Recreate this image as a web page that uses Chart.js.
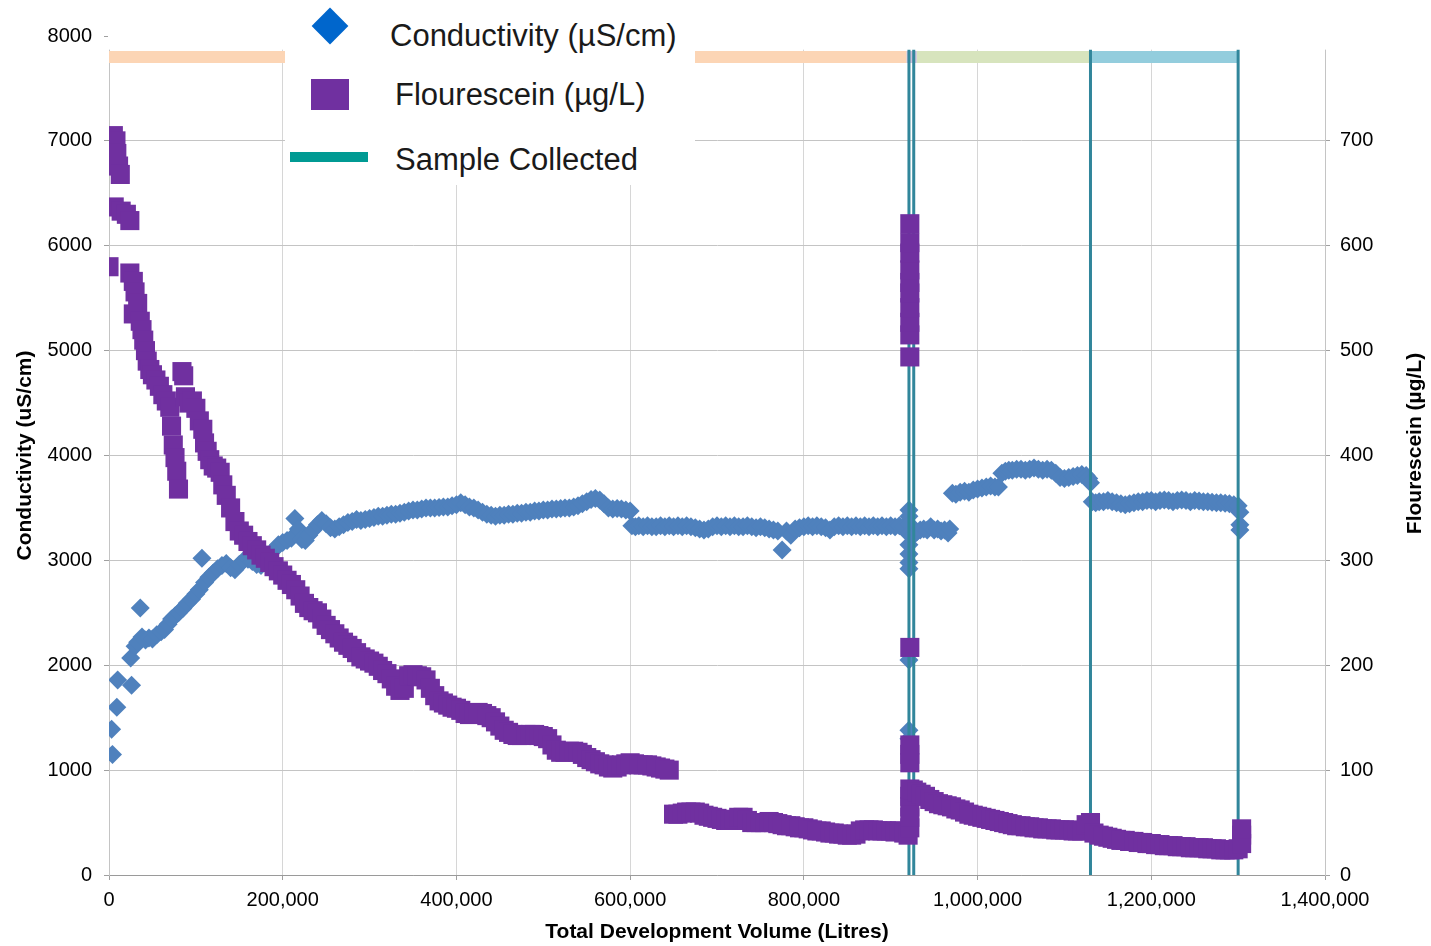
<!DOCTYPE html>
<html>
<head>
<meta charset="utf-8">
<script src="https://cdn.jsdelivr.net/npm/chart.js@4.4.1/dist/chart.umd.min.js"></script>
<style>
  body { margin: 0; background: #fff; }
  #wrap { position: relative; width: 1431px; height: 946px; }
  #legend {
    position: absolute; left: 285px; top: 0; width: 410px; height: 185px;
    background: #fff; font-family: "Liberation Sans", Arial, sans-serif; color: #1a1a1a;
  }
  #legend .txt { position: absolute; font-size: 31px; line-height: 31px; white-space: nowrap; }
  .diamond { position: absolute; left: 32px; top: 13px; width: 26px; height: 26px; background: #0066cc; transform: rotate(45deg); }
  .square { position: absolute; left: 26px; top: 79px; width: 38px; height: 31px; background: #7030a0; }
  .line { position: absolute; left: 5px; top: 152px; width: 78px; height: 10px; background: #009a93; }
</style>
</head>
<body>
<div id="wrap">
  <canvas id="chart" width="1431" height="946"></canvas>
  <div id="legend">
    <div class="diamond"></div>
    <div class="txt" style="left:105px;top:20px">Conductivity (µS/cm)</div>
    <div class="square"></div>
    <div class="txt" style="left:110px;top:79px">Flourescein (µg/L)</div>
    <div class="line"></div>
    <div class="txt" style="left:110px;top:144px">Sample Collected</div>
  </div>
</div>
<script>
// [volume (L), conductivity (uS/cm)]
const conductivity = [
  [3000,1390],[4000,1150],[9000,1600],[10000,1860],[25000,2070],[26000,1810],[30000,2180],[33000,2220],
  [36000,2545],[38000,2270],[42000,2240],[46000,2260],[50000,2250],[55000,2290],[60000,2320],[64000,2340],
  [68000,2390],[72000,2440],[76000,2470],[80000,2500],[85000,2540],[90000,2590],[95000,2630],[100000,2680],
  [104000,2720],[107000,3020],[110000,2790],[115000,2840],[120000,2880],[125000,2920],[130000,2950],[135000,2970],
  [140000,2930],[145000,2910],[150000,2960],[155000,3000],[160000,3010],[165000,2990],[170000,2960],[175000,2950],
  [180000,3010],[185000,3060],[190000,3100],[195000,3150],[200000,3170],[205000,3190],[210000,3210],[214000,3400],
  [218000,3300],[222000,3200],[226000,3190],[230000,3240],[235000,3290],[240000,3340],[245000,3380],[250000,3350],
  [255000,3310],[260000,3300],[265000,3320],[270000,3340],[275000,3360],[280000,3370],[285000,3390],[290000,3380],
  [295000,3390],[300000,3400],[305000,3410],[310000,3420],[315000,3420],[320000,3430],[325000,3440],[330000,3440],
  [335000,3450],[340000,3460],[345000,3470],[350000,3480],[355000,3480],[360000,3490],[365000,3500],[370000,3500],
  [375000,3500],[380000,3505],[385000,3510],[390000,3510],[395000,3520],[400000,3530],[405000,3550],[410000,3530],
  [415000,3510],[420000,3500],[425000,3480],[430000,3460],[435000,3440],[440000,3430],[445000,3420],[450000,3430],
  [455000,3430],[460000,3440],[465000,3440],[470000,3450],[475000,3450],[480000,3460],[485000,3460],[490000,3470],
  [495000,3470],[500000,3480],[505000,3480],[510000,3490],[515000,3490],[520000,3495],[525000,3500],[530000,3500],
  [535000,3510],[540000,3520],[545000,3540],[550000,3560],[555000,3580],[560000,3590],[565000,3575],[570000,3540],
  [575000,3500],[580000,3490],[585000,3495],[590000,3490],[595000,3480],[600000,3470],
  [602000,3330],[606000,3320],[610000,3330],[615000,3320],[620000,3330],[625000,3320],[630000,3320],[635000,3330],
  [640000,3320],[645000,3330],[650000,3320],[655000,3330],[660000,3320],[665000,3330],[670000,3320],[675000,3310],
  [680000,3300],[685000,3290],[690000,3300],[695000,3320],[700000,3330],[705000,3320],[710000,3330],[715000,3320],
  [720000,3330],[725000,3320],[730000,3320],[735000,3330],[740000,3320],[745000,3310],[750000,3320],[755000,3310],
  [760000,3300],[765000,3290],[770000,3280],[775000,3100],[780000,3280],[785000,3240],[790000,3300],[795000,3310],
  [800000,3320],[805000,3330],[810000,3320],[815000,3330],[820000,3320],[825000,3310],[830000,3290],[835000,3320],
  [840000,3330],[845000,3320],[850000,3330],[855000,3320],[860000,3330],[865000,3320],[870000,3330],[875000,3320],
  [880000,3330],[885000,3320],[890000,3330],[895000,3320],[900000,3330],[905000,3320],[910000,3330],[915000,3320],
  [921000,3480],[921000,3420],[921000,3350],[921000,3250],[921000,3150],[921000,3060],[921000,2980],[921000,2920],
  [921000,2050],[921000,1380],[921000,1300],
  [926000,3240],[930000,3270],[934000,3290],[938000,3300],[942000,3290],[946000,3320],[950000,3290],[954000,3300],
  [958000,3280],[962000,3290],[966000,3260],[968000,3300],
  [971000,3640],[975000,3630],[980000,3650],[985000,3660],[990000,3650],[995000,3670],[1000000,3680],[1005000,3690],
  [1010000,3700],[1015000,3710],[1020000,3700],[1024000,3700],
  [1028000,3830],[1032000,3850],[1036000,3860],[1040000,3860],[1045000,3870],[1050000,3870],[1055000,3860],[1060000,3870],
  [1065000,3880],[1070000,3870],[1075000,3860],[1080000,3870],[1085000,3860],[1090000,3830],[1095000,3790],[1100000,3780],
  [1105000,3790],[1110000,3800],[1115000,3810],[1120000,3820],[1125000,3810],[1128000,3780],[1130000,3740],
  [1132000,3560],[1136000,3550],[1140000,3560],[1145000,3560],[1150000,3570],[1155000,3560],[1160000,3550],[1165000,3540],
  [1170000,3530],[1175000,3540],[1180000,3550],[1185000,3560],[1190000,3560],[1195000,3570],[1200000,3570],[1205000,3560],
  [1210000,3570],[1215000,3575],[1220000,3570],[1225000,3560],[1230000,3570],[1235000,3575],[1240000,3570],[1245000,3560],
  [1250000,3570],[1255000,3565],[1260000,3560],[1265000,3560],[1270000,3555],[1275000,3550],[1280000,3550],[1285000,3545],
  [1290000,3540],[1295000,3530],[1300000,3520],[1302000,3460],[1302000,3340],[1302000,3290]
];

// [volume (L), flourescein (ug/L)]
const flourescein = [
  [0,580],[5000,705],[8000,700],[9000,688],[11000,676],[13000,668],[6000,637],[14000,633],[20000,630],[24000,624],
  [24000,574],[28000,566],[30000,556],[33000,545],[28000,535],[36000,528],[38000,520],[40000,510],[42000,500],[44000,490],
  [47000,482],[50000,477],[54000,472],[58000,466],[62000,458],[66000,452],[70000,446],[72000,428],[74000,410],[76000,398],
  [78000,385],[80000,368],[84000,480],[86000,476],[88000,456],[92000,450],[96000,452],[100000,445],[104000,433],[108000,425],
  [110000,412],[113000,404],[116000,396],[120000,390],[124000,388],[128000,384],[131000,372],[135000,362],[140000,350],[145000,337],
  [150000,328],[155000,324],[160000,318],[165000,314],[170000,310],[175000,305],[180000,302],[185000,298],[190000,294],[195000,290],
  [200000,286],[205000,281],[210000,277],[215000,272],[220000,266],[225000,259],[230000,255],[235000,252],[240000,250],[245000,244],
  [250000,238],[255000,234],[260000,230],[265000,226],[270000,222],[275000,219],[280000,216],[285000,212],[290000,208],[295000,206],
  [300000,204],[305000,202],[310000,199],[315000,195],[320000,192],[325000,187],[330000,180],[335000,176],[340000,178],[345000,190],
  [350000,191],[355000,190],[360000,189],[365000,186],[370000,178],[375000,171],[380000,166],[385000,164],[390000,162],[395000,160],
  [400000,159],[405000,157],[410000,154],[415000,153],[420000,154],[425000,155],[430000,154],[435000,152],[440000,150],[445000,146],
  [450000,142],[455000,138],[460000,136],[465000,134],[470000,133],[475000,133],[480000,134],[485000,134],[490000,134],[495000,133],
  [500000,132],[505000,130],[510000,124],[515000,119],[520000,117],[525000,117],[530000,118],[535000,118],[540000,117],[545000,115],
  [550000,112],[555000,110],[560000,108],[565000,106],[570000,105],[575000,103],[580000,102],[585000,103],[590000,105],[595000,106],
  [600000,107],[605000,106],[610000,105],[615000,105],[620000,105],[625000,104],[630000,103],[635000,102],[640000,101],[645000,100],
  [650000,58],[655000,58],[660000,59],[665000,60],[670000,60],[675000,60],[680000,59],[685000,57],[690000,56],[695000,55],
  [700000,54],[705000,53],[710000,52],[715000,52],[720000,53],[725000,55],[730000,55],[735000,52],[740000,50],[745000,50],
  [750000,50],[755000,50],[760000,51],[765000,50],[770000,49],[775000,48],[780000,47],[785000,47],[790000,46],[795000,45],
  [800000,45],[805000,44],[810000,43],[815000,42],[820000,42],[825000,41],[830000,40],[835000,40],[840000,39],[845000,39],
  [850000,38],[855000,38],[860000,39],[865000,42],[870000,43],[875000,43],[880000,43],[885000,42],[890000,42],[895000,42],
  [900000,42],[905000,41],[910000,42],[915000,40],[920000,38],
  [922000,45],[922000,55],[922000,65],[922000,75],[922000,82],[922000,107],[922000,115],[922000,124],[922000,217],
  [922000,494],[922000,515],[922000,527],[922000,541],[922000,555],[922000,565],[922000,577],[922000,593],[922000,603],[922000,621],
  [926000,81],[930000,79],[935000,77],[940000,75],[945000,72],[950000,70],[955000,68],[960000,67],[965000,66],[970000,65],
  [975000,63],[980000,62],[985000,60],[990000,58],[995000,57],[1000000,56],[1005000,55],[1010000,54],[1015000,53],[1020000,52],
  [1025000,51],[1030000,50],[1035000,49],[1040000,48],[1045000,47],[1050000,47],[1055000,46],[1060000,46],[1065000,45],[1070000,45],
  [1075000,44],[1080000,44],[1085000,44],[1090000,43],[1095000,43],[1100000,43],[1105000,43],[1110000,42],[1115000,42],[1120000,42],
  [1125000,48],[1130000,50],[1134000,40],[1140000,38],[1145000,37],[1150000,36],[1155000,35],[1160000,34],[1165000,33],[1170000,33],
  [1175000,32],[1180000,32],[1185000,31],[1190000,31],[1195000,30],[1200000,30],[1205000,29],[1210000,29],[1215000,28],[1220000,28],
  [1225000,28],[1230000,27],[1235000,27],[1240000,27],[1245000,26],[1250000,26],[1255000,26],[1260000,26],[1265000,25],[1270000,25],
  [1275000,25],[1280000,24],[1285000,24],[1290000,24],[1295000,24],[1300000,25],[1304000,30],[1304000,38],[1304000,44]
];

const sampleVolumes = [921000, 926500, 1130000, 1300000];
const phaseBounds = [[0, 918000], [918000, 930000], [930000, 1131000], [1131000, 1301000]];
const phaseColors = ['#fcd5b5', '#ccc0da', '#d7e4bd', '#93cddd'];
const phaseLevel = 7800;
const sampleTop = 7870;

const xTicks = [0, 200000, 400000, 600000, 800000, 1000000, 1200000, 1400000];

Chart.defaults.font.family = '"Liberation Sans", Arial, sans-serif';
Chart.defaults.color = '#000';

const datasets = [];
datasets.push({
  label: 'Flourescein (µg/L)',
  data: flourescein.map(p => ({ x: p[0], y: p[1] })),
  yAxisID: 'y1',
  pointStyle: 'rect',
  pointRadius: 13.5,
  pointBackgroundColor: '#7030a0',
  pointBorderColor: '#7030a0',
  pointBorderWidth: 0,
  order: 0
});
sampleVolumes.forEach(v => {
  datasets.push({
    label: 'Sample Collected',
    data: [{ x: v, y: 0 }, { x: v, y: sampleTop }],
    yAxisID: 'y',
    showLine: true,
    borderColor: '#31869b',
    borderWidth: 3,
    pointRadius: 0,
    order: 1
  });
});
phaseBounds.forEach((b, i) => {
  datasets.push({
    label: 'phase',
    data: [{ x: b[0], y: phaseLevel }, { x: b[1], y: phaseLevel }],
    yAxisID: 'y',
    showLine: true,
    borderColor: phaseColors[i],
    borderWidth: 12,
    borderCapStyle: 'butt',
    pointRadius: 0,
    order: 2
  });
});
datasets.push({
  label: 'Conductivity (µS/cm)',
  data: conductivity.map(p => ({ x: p[0], y: p[1] })),
  yAxisID: 'y',
  pointStyle: 'rectRot',
  pointRadius: 9.5,
  pointBackgroundColor: '#4f81bd',
  pointBorderColor: '#4f81bd',
  pointBorderWidth: 0,
  order: 3
});

const chartExtras = {
  id: 'chartExtras',
  beforeDatasetsDraw(chart) {
    const { ctx, chartArea, scales } = chart;
    const yTop = scales.y.getPixelForValue(sampleTop);
    ctx.save();
    ctx.fillStyle = '#fff';
    ctx.fillRect(chartArea.left - 1, chartArea.top - 2, chartArea.right - chartArea.left + 3, yTop - chartArea.top + 2);
    ctx.restore();
  },
  afterDraw(chart) {
    const { ctx, chartArea } = chart;
    ctx.save();
    ctx.translate(1415, (chartArea.top + chartArea.bottom) / 2 - 12);
    ctx.rotate(-Math.PI / 2);
    ctx.font = 'bold 21px "Liberation Sans", Arial, sans-serif';
    ctx.fillStyle = '#000';
    ctx.textAlign = 'center';
    ctx.textBaseline = 'middle';
    ctx.fillText('Flourescein (µg/L)', 0, 0);
    ctx.restore();
  }
};

new Chart(document.getElementById('chart'), {
  type: 'scatter',
  data: { datasets },
  plugins: [chartExtras],
  options: {
    responsive: false,
    animation: false,
    events: [],
    layout: { padding: { top: 36, left: 0, right: 0, bottom: 0 } },
    plugins: { legend: { display: false }, tooltip: { enabled: false } },
    scales: {
      x: {
        type: 'linear',
        min: 0,
        max: 1400000,
        afterBuildTicks: s => { s.ticks = xTicks.map(v => ({ value: v })); },
        afterFit: s => { s.height = 71; },
        grid: { color: '#d6d6d6', tickLength: 5, tickColor: '#a0a0a0' },
        border: { color: '#9a9a9a' },
        ticks: {
          font: { size: 20 },
          padding: 8,
          maxRotation: 0,
          callback: v => v.toLocaleString('en-US')
        },
        title: {
          display: true,
          text: 'Total Development Volume (Litres)',
          font: { size: 21, weight: 'bold' },
          padding: { top: 0, bottom: 1 }
        }
      },
      y: {
        position: 'left',
        min: 0,
        max: 8000,
        afterFit: s => { s.width = 109; },
        grid: { color: '#c4c4c4', tickLength: 5, tickColor: '#a0a0a0' },
        border: { color: '#c4c4c4' },
        ticks: { stepSize: 1000, font: { size: 20 }, padding: 12, callback: v => String(v) },
        title: {
          display: true,
          text: 'Conductivity (uS/cm)',
          font: { size: 21, weight: 'bold' },
          padding: { top: 13, bottom: 0 }
        }
      },
      y1: {
        position: 'right',
        min: 0,
        max: 800,
        afterFit: s => { s.width = 106; },
        grid: {
          drawOnChartArea: false,
          tickLength: 5,
          tickColor: c => (c.tick && c.tick.value === 800 ? 'rgba(0,0,0,0)' : '#a0a0a0')
        },
        border: { color: '#c4c4c4' },
        ticks: {
          stepSize: 100,
          font: { size: 20 },
          padding: 10,
          callback: v => (v === 800 ? '' : String(v))
        }
      }
    }
  }
});
</script>
</body>
</html>
